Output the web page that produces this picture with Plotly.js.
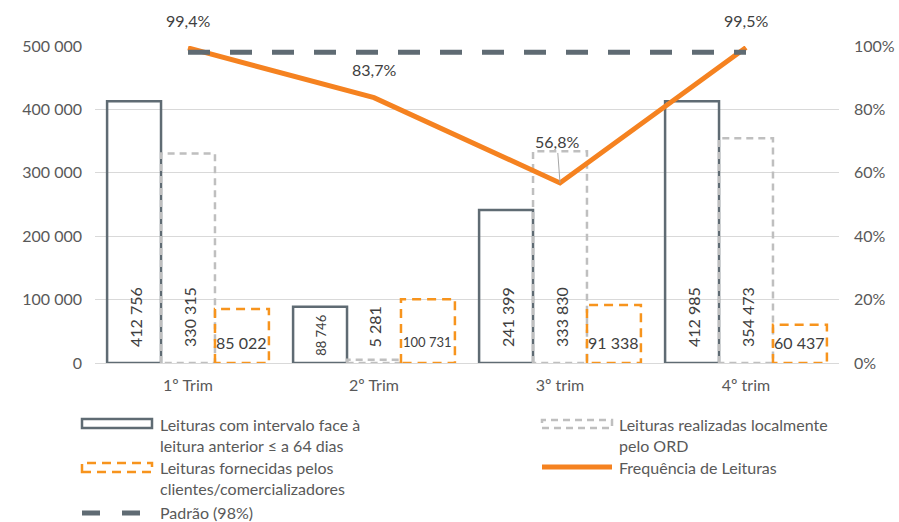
<!DOCTYPE html>
<html>
<head>
<meta charset="utf-8">
<script src="https://cdn.plot.ly/plotly-3.0.1.min.js"></script>
<style>html,body{margin:0;padding:0;background:#fff;}#chart{width:899px;height:522px;}</style>
</head>
<body>
<div id="chart"></div>
<script>
// ---- data ----
const categories = ['1º Trim', '2º Trim', '3º trim', '4º trim'];
const leiturasIntervalo = [412756, 88746, 241399, 412985];
const leiturasLocal = [330315, 5281, 333830, 354473];
const leiturasFornecidas = [85022, 100731, 91338, 60437];
const frequencia = [0.994, 0.837, 0.568, 0.995];
const frequenciaLabels = ['99,4%', '83,7%', '56,8%', '99,5%'];
const padrao = [0.98, 0.98, 0.98, 0.98];
const seriesNames = [
  'Leituras com intervalo face à<br>leitura anterior ≤ a 64 dias',
  'Leituras realizadas localmente<br>pelo ORD',
  'Leituras fornecidas pelos<br>clientes/comercializadores',
  'Frequência de Leituras',
  'Padrão (98%)'
];

// ---- styling ----
const FONT = 'Lato, "Liberation Sans", sans-serif';
const TXT = '#595959';
const DARK = '#5F6B73';
const LIGHT = '#BFBFBF';
const ORANGE = '#F7941D';
const ORANGE_LINE = '#F58220';
const BW = 0.29;
const idx = categories.map((_, i) => i);
const fmt = v => String(v).replace(/\B(?=(\d{3})+(?!\d))/g, ' ');

// plot-area pixel helpers for legend placement
const L = 95, R = 839, T = 46, B = 363;
const px = p => (p - L) / (R - L);
const py = p => (B - p) / (B - T);

function barTrace(vals, k, name, lineColor, lineWidth) {
  return {
    type: 'bar', x: idx, y: vals, name: name,
    offset: -1.5 * BW + k * BW, width: BW,
    marker: {color: 'rgba(0,0,0,0)', line: {color: lineColor, width: lineWidth}},
    showlegend: false, hoverinfo: 'y'
  };
}
function outlineTrace(vals, k, color, width, dash) {
  const xs = [], ys = [];
  vals.forEach((v, i) => {
    const x0 = i - 1.5 * BW + k * BW, x1 = x0 + BW;
    xs.push(x0, x0, x1, x1, x0, null);
    ys.push(0, v, v, 0, 0, null);
  });
  return {type: 'scatter', mode: 'lines', x: xs, y: ys, line: {color: color, width: width, dash: dash},
          showlegend: false, hoverinfo: 'skip'};
}

const traces = [
  barTrace(leiturasIntervalo, 0, seriesNames[0], DARK, 2.5),
  barTrace(leiturasLocal, 1, seriesNames[1], 'rgba(0,0,0,0)', 0),
  barTrace(leiturasFornecidas, 2, seriesNames[2], 'rgba(0,0,0,0)', 0),
  outlineTrace(leiturasLocal, 1, LIGHT, 2.5, '7px,5px'),
  outlineTrace(leiturasFornecidas, 2, ORANGE, 2.5, '9px,6px'),
  {type: 'scatter', mode: 'lines', x: idx, y: frequencia, yaxis: 'y2', name: seriesNames[3],
   line: {color: ORANGE_LINE, width: 5}, showlegend: false},
  {type: 'scatter', mode: 'lines', x: idx, y: padrao, yaxis: 'y2', name: seriesNames[4],
   line: {color: DARK, width: 5, dash: '22px,20px'}, showlegend: false}
];

const annotations = [];
// vertical labels for first two series
[[leiturasIntervalo, 0], [leiturasLocal, 1]].forEach(([vals, k]) => {
  vals.forEach((v, i) => {
    const small = (k === 0 && v < 150000);
    annotations.push({x: i - BW + k * BW + 0.005, y: small ? v / 2 : 0, xref: 'x', yref: 'y', text: fmt(v),
      textangle: -90, showarrow: false, yanchor: small ? 'middle' : 'bottom', xanchor: 'center',
      yshift: small ? 0 : 14,
      font: {family: FONT, size: small ? 13 : 16, color: '#404040'}});
  });
});
// horizontal labels for third series
leiturasFornecidas.forEach((v, i) => {
  const s = fmt(v);
  annotations.push({x: i + BW, y: 0, xref: 'x', yref: 'y', text: s, showarrow: false,
    yanchor: 'middle', xanchor: 'center', yshift: 21,
    font: {family: FONT, size: s.length > 6 ? 13 : 16, color: '#404040'}});
});
// percentage labels
const pctShift = [27, 28, 41, 27];
frequencia.forEach((v, i) => {
  if (i === 2) {
    annotations.push({x: i, y: v, xref: 'x', yref: 'y2', text: frequenciaLabels[i], showarrow: true,
      arrowhead: 0, arrowwidth: 1, arrowcolor: '#A6A6A6', ax: -3, ay: -41, standoff: 0,
      font: {family: FONT, size: 16, color: '#404040'}});
  } else {
    annotations.push({x: i, y: v, xref: 'x', yref: 'y2', text: frequenciaLabels[i], showarrow: false,
      yshift: pctShift[i], font: {family: FONT, size: 16, color: '#404040'}});
  }
});

// custom legend
const shapes = [
  {type: 'rect', xref: 'paper', yref: 'paper', x0: px(82), x1: px(152), y0: py(428), y1: py(419),
   line: {color: DARK, width: 2.5}, fillcolor: 'rgba(0,0,0,0)'},
  {type: 'rect', xref: 'paper', yref: 'paper', x0: px(542), x1: px(612), y0: py(428), y1: py(420),
   line: {color: LIGHT, width: 2.5, dash: '7px,5px'}, fillcolor: 'rgba(0,0,0,0)'},
  {type: 'rect', xref: 'paper', yref: 'paper', x0: px(82), x1: px(152), y0: py(472), y1: py(463),
   line: {color: ORANGE, width: 2.5, dash: '9px,6px'}, fillcolor: 'rgba(0,0,0,0)'},
  {type: 'line', xref: 'paper', yref: 'paper', x0: px(542), x1: px(612), y0: py(467), y1: py(467),
   line: {color: ORANGE_LINE, width: 5}},
  {type: 'line', xref: 'paper', yref: 'paper', x0: px(82), x1: px(152), y0: py(513), y1: py(513),
   line: {color: DARK, width: 5, dash: '18px,22px'}}
];
const legendPos = [[158, 413], [617, 413], [158, 456], [617, 456], [158, 501]];
seriesNames.forEach((n, i) => {
  annotations.push({xref: 'paper', yref: 'paper', x: px(legendPos[i][0]), y: py(legendPos[i][1]),
    xanchor: 'left', yanchor: 'top', align: 'left', text: n, showarrow: false,
    font: {family: FONT, size: 16, color: TXT}});
});

const layout = {
  width: 899, height: 522,
  margin: {l: L, r: 899 - R, t: T, b: 522 - B},
  paper_bgcolor: '#fff', plot_bgcolor: '#fff',
  separators: ', ',
  font: {family: FONT, size: 16, color: TXT},
  showlegend: false,
  barmode: 'overlay',
  xaxis: {type: 'linear', range: [-0.5, 3.5], tickvals: idx, ticktext: categories,
          showgrid: false, zeroline: false, showline: true, linecolor: '#D9D9D9', linewidth: 1,
          ticks: '', ticklabelstandoff: 8, tickfont: {family: FONT, size: 16, color: TXT}},
  yaxis: {range: [0, 500000], dtick: 100000, tickformat: ',d', showgrid: true, gridcolor: '#D9D9D9',
          gridwidth: 1, zeroline: false, ticks: '', ticklabelstandoff: 12,
          tickfont: {family: FONT, size: 16, color: TXT}},
  yaxis2: {range: [0, 1], dtick: 0.2, tickformat: '.0%', overlaying: 'y', side: 'right',
           showgrid: false, zeroline: false, ticks: '', ticklabelstandoff: 14,
           tickfont: {family: FONT, size: 16, color: TXT}},
  shapes: shapes,
  annotations: annotations
};

Plotly.newPlot('chart', traces, layout, {displayModeBar: false, staticPlot: true});
</script>
</body>
</html>
